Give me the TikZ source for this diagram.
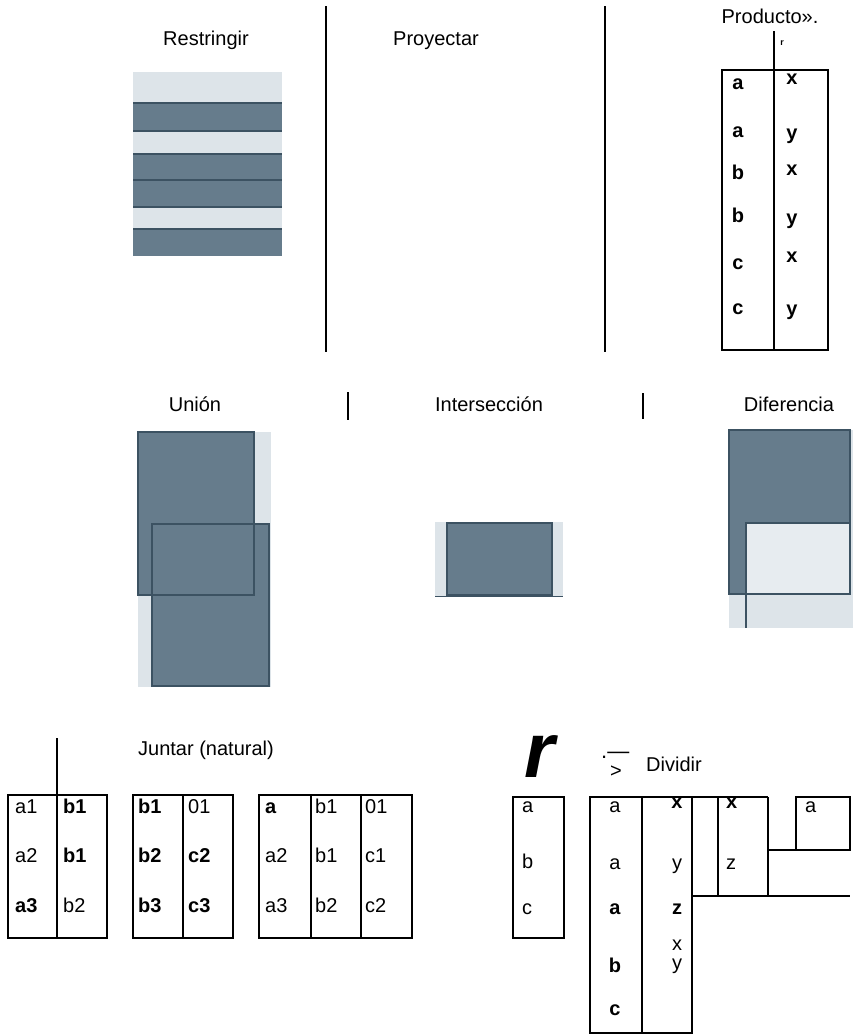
\documentclass[tikz,border=0pt]{standalone}
\usepackage{fontspec}
\setmainfont{Liberation Sans}
\usepackage{tikz}
\usetikzlibrary{positioning,calc}

\definecolor{slate}{RGB}{102,124,140}
\definecolor{paper}{RGB}{221,228,233}
\definecolor{edge}{RGB}{60,82,98}

\begin{document}
\begin{tikzpicture}[x=1pt,y=-1pt,
  lbl/.style={font=\fontsize{20}{24}\selectfont, inner sep=0pt, anchor=mid},
  cell/.style={font=\fontsize{20}{24}\selectfont, inner sep=0pt, anchor=mid west},
  mcell/.style={font=\fontsize{20}{24}\selectfont, inner sep=0pt, anchor=mid},
  tline/.style={line width=1.8pt},
  band/.style={line width=1.1pt, draw=edge}]

      \useasboundingbox (0,0) rectangle (853,1034);

      \node[lbl] (restringir) at (206,43) {Restringir} ;
      \node[lbl] (proyectar) at (436,43) {Proyectar} ;
      \node[lbl] (producto) at (770,21) {Producto».} ;
      \node[font=\bfseries\fontsize{9}{10}\selectfont, inner sep=0pt] (rsmall) at (782,43) {r} ;

      \draw[tline] (326,6) -- (326,352) ;
      \draw[tline] (605,6) -- (605,352) ;

      \fill[paper] (133,72) rectangle (282,256) ;
      \fill[slate] (133,103) rectangle (282,131) ;
      \fill[slate] (133,154) rectangle (282,207) ;
      \fill[slate] (133,229) rectangle (282,256) ;
      \foreach \y in {103,131,154,180,207,229}
        \draw[band] (133,\y) -- (282,\y) ;

      \draw[tline] (722,70) rectangle (828,350) ;
      \draw[tline] (774,31) -- (774,350) ;

      \node[mcell] (pa1) at (738,87) {\textbf{a}} ;
      \node[mcell] (pa2) at (738,135) {\textbf{a}} ;
      \node[mcell] (pb1) at (738,177) {\textbf{b}} ;
      \node[mcell] (pb2) at (738,220) {\textbf{b}} ;
      \node[mcell] (pc1) at (738,267) {\textbf{c}} ;
      \node[mcell] (pc2) at (738,312) {\textbf{c}} ;
      \node[mcell] (px1) at (792,82) {\textbf{x}} ;
      \node[mcell] (py1) at (792,137) {\textbf{y}} ;
      \node[mcell] (px2) at (792,173) {\textbf{x}} ;
      \node[mcell] (py2) at (792,222) {\textbf{y}} ;
      \node[mcell] (px3) at (792,260) {\textbf{x}} ;
      \node[mcell] (py3) at (792,313) {\textbf{y}} ;

      \node[lbl] (union) at (195,409) {Unión} ;
      \node[lbl] (inter) at (489,409) {Intersección} ;
      \node[lbl] (dif) at (789,409) {Diferencia} ;

      \draw[tline] (348,392) -- (348,420) ;
      \draw[tline] (643,393) -- (643,419) ;

      \fill[paper] (138,432) rectangle (271,687) ;
      \fill[slate] (138,432) rectangle (254,595) ;
      \fill[slate] (152,524) rectangle (269,686) ;
      \draw[band] (138,432) rectangle (254,595) ;
      \draw[band] (152,524) rectangle (269,686) ;

      \fill[paper] (435,522) rectangle (563,596) ;
      \filldraw[fill=slate, band] (447,523) rectangle (552,595) ;
      \draw[band, line width=0.7pt] (435,596) -- (563,596) ;

      \fill[paper] (729,430) rectangle (853,628) ;
      \filldraw[fill=slate, band] (729,430) rectangle (850,594) ;
      \filldraw[fill=paper!70!white, band] (746,523) rectangle (850,594) ;
      \draw[band] (746,594) -- (746,628) ;

      \node[lbl] (juntar) at (206,753) {Juntar (natural)} ;
      \draw[tline] (57,738) -- (57,795) ;

      \draw[tline] (8,795) rectangle (107,938) ;
      \draw[tline] (57,795) -- (57,938) ;
      \node[cell] (t1a1) at (15,811) {a1} ;
      \node[cell] (t1b1) at (63,811) {\textbf{b1}} ;
      \node[cell] (t1a2) at (15,860) {a2} ;
      \node[cell] (t1b2) at (63,860) {\textbf{b1}} ;
      \node[cell] (t1a3) at (15,910) {\textbf{a3}} ;
      \node[cell] (t1b3) at (63,910) {b2} ;

      \draw[tline] (133,795) rectangle (233,938) ;
      \draw[tline] (183,795) -- (183,938) ;
      \node[cell] (t2b1) at (138,811) {\textbf{b1}} ;
      \node[cell] (t2c1) at (188,811) {01} ;
      \node[cell] (t2b2) at (138,860) {\textbf{b2}} ;
      \node[cell] (t2c2) at (188,860) {\textbf{c2}} ;
      \node[cell] (t2b3) at (138,910) {\textbf{b3}} ;
      \node[cell] (t2c3) at (188,910) {\textbf{c3}} ;

      \draw[tline] (259,795) rectangle (412,938) ;
      \draw[tline] (311,795) -- (311,938) ;
      \draw[tline] (361,795) -- (361,938) ;
      \node[cell] (t3a1) at (265,811) {\textbf{a}} ;
      \node[cell] (t3b1) at (315,811) {b1} ;
      \node[cell] (t3c1) at (365,811) {01} ;
      \node[cell] (t3a2) at (265,860) {a2} ;
      \node[cell] (t3b2) at (315,860) {b1} ;
      \node[cell] (t3c2) at (365,860) {c1} ;
      \node[cell] (t3a3) at (265,910) {a3} ;
      \node[cell] (t3b3) at (315,910) {b2} ;
      \node[cell] (t3c3) at (365,910) {c2} ;

      \node[font=\bfseries\itshape\fontsize{78}{80}\selectfont, inner sep=0pt, anchor=base] (rbig) at (540,777) {r} ;
      \node[font=\fontsize{22}{24}\selectfont, inner sep=0pt, anchor=base west] (bar) at (601,758) {.—} ;
      \node[lbl] (gt) at (616,775) {>} ;
      \node[lbl] (dividir) at (674,769) {Dividir} ;

      \draw[tline] (513,797) rectangle (564,938) ;
      \node[cell] (ra) at (522,810) {a} ;
      \node[cell] (rb) at (522,866) {b} ;
      \node[cell] (rc) at (522,912) {c} ;

      \draw[tline] (590,797) rectangle (692,1033) ;
      \draw[tline] (642,797) -- (642,1033) ;
      \node[mcell] (da1) at (615,810) {a} ;
      \node[mcell] (da2) at (615,867) {a} ;
      \node[mcell] (da3) at (615,912) {\textbf{a}} ;
      \node[mcell] (db) at (615,970) {\textbf{b}} ;
      \node[mcell] (dc) at (615,1013) {\textbf{c}} ;
      \node[mcell] (dx1) at (677,806) {\textbf{x}} ;
      \node[mcell] (dy1) at (677,867) {y} ;
      \node[mcell] (dz1) at (677,912) {\textbf{z}} ;
      \node[mcell] (dx2) at (677,948) {x} ;
      \node[mcell] (dy2) at (677,967) {y} ;

      \draw[tline] (692,797) -- (768,797) ;
      \draw[tline] (718,797) -- (718,896) ;
      \draw[tline] (768,797) -- (768,896) ;
      \draw[tline] (692,896) -- (850,896) ;
      \node[cell] (sx) at (726,806) {\textbf{x}} ;
      \node[cell] (sz) at (726,867) {z} ;

      \draw[tline] (796,797) rectangle (850,850) ;
      \draw[tline] (768,850) -- (796,850) ;
      \node[cell] (sa) at (805,810) {a} ;

    \end{tikzpicture}
\end{document}
